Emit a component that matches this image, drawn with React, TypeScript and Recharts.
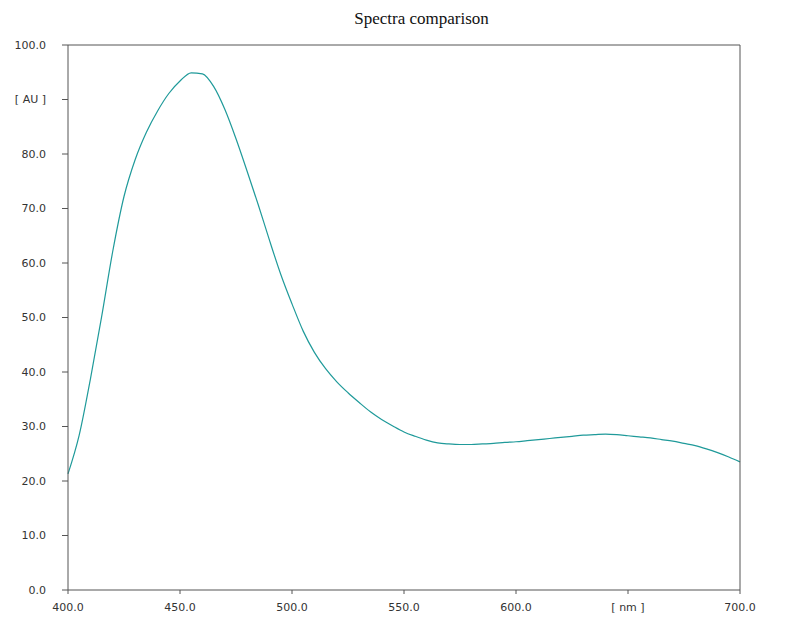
import React from 'react';
import { LineChart, Line, XAxis, YAxis } from 'recharts';

const wavelengths = [
  400, 405, 410, 415, 420, 425, 430, 435, 440, 445, 450, 455, 460, 465, 470, 475, 480, 485, 490, 495,
  500, 505, 510, 515, 520, 525, 530, 535, 540, 545, 550, 555, 560, 565, 570, 575, 580, 585, 590, 595,
  600, 605, 610, 615, 620, 625, 630, 635, 640, 645, 650, 655, 660, 665, 670, 675, 680, 685, 690, 695, 700,
];

const absorbance = [
  21.3, 28.4, 38.7, 50.1, 62.2, 72.2, 79.0, 84.0, 87.9, 91.1, 93.4, 94.9, 94.7, 92.4, 88.2, 82.8, 76.8, 70.6, 64.1, 57.9,
  52.5, 47.5, 43.6, 40.6, 38.2, 36.2, 34.4, 32.7, 31.3, 30.1, 29.0, 28.2, 27.5, 27.0, 26.8, 26.7, 26.7, 26.8, 26.9, 27.1,
  27.2, 27.4, 27.6, 27.8, 28.0, 28.2, 28.4, 28.5, 28.6, 28.5, 28.3, 28.1, 27.9, 27.6, 27.3, 26.9, 26.5, 25.9, 25.2, 24.4, 23.5,
];

const xTicks = [400, 450, 500, 550, 600, 650, 700];
const yTicks = [0, 10, 20, 30, 40, 50, 60, 70, 80, 90, 100];

const data = wavelengths.map((nm, i) => ({ nm, au: absorbance[i] }));

const tickStyle = { fontSize: 11, fill: '#333', fontFamily: '"DejaVu Sans", sans-serif' };
const axisColor = '#555';

const fmtX = (v: number) => (v === 650 ? '[ nm ]' : v.toFixed(1));
const fmtY = (v: number) => (v === 90 ? '[ AU ]' : v.toFixed(1));

export default function App() {
  return (
    <div style={{ position: 'absolute', left: 0, top: 0, width: 799, height: 617, background: '#fff' }}>
      <div
        style={{
          position: 'absolute',
          top: 9,
          left: 0,
          width: 843,
          textAlign: 'center',
          fontFamily: '"Liberation Serif", "Times New Roman", serif',
          fontSize: 17,
          color: '#111',
        }}
      >
        Spectra comparison
      </div>
      <LineChart width={799} height={617} data={data} margin={{ top: 35, right: 4, bottom: 2, left: 8 }}>
        <XAxis
          xAxisId="bottom"
          dataKey="nm"
          type="number"
          domain={[400, 700]}
          ticks={xTicks}
          tickFormatter={fmtX}
          height={25}
          tickSize={4}
          tickMargin={9}
          stroke={axisColor}
          tick={tickStyle}
          interval={0}
        />
        <XAxis
          xAxisId="top"
          orientation="top"
          dataKey="nm"
          type="number"
          domain={[400, 700]}
          ticks={xTicks}
          height={10}
          tickSize={4}
          tick={false}
          stroke={axisColor}
        />
        <YAxis
          yAxisId="left"
          domain={[0, 100]}
          ticks={yTicks}
          tickFormatter={fmtY}
          width={60}
          tickSize={6}
          tickMargin={16}
          stroke={axisColor}
          tick={tickStyle}
          interval={0}
        />
        <YAxis
          yAxisId="right"
          orientation="right"
          domain={[0, 100]}
          ticks={yTicks}
          tickFormatter={fmtY}
          width={55}
          tickSize={6}
          tickMargin={15}
          stroke={axisColor}
          tick={tickStyle}
          interval={0}
        />
        <Line
          xAxisId="bottom"
          yAxisId="left"
          type="monotone"
          dataKey="au"
          stroke="#1f9a9a"
          strokeWidth={1.2}
          dot={false}
          isAnimationActive={false}
        />
      </LineChart>
    </div>
  );
}
